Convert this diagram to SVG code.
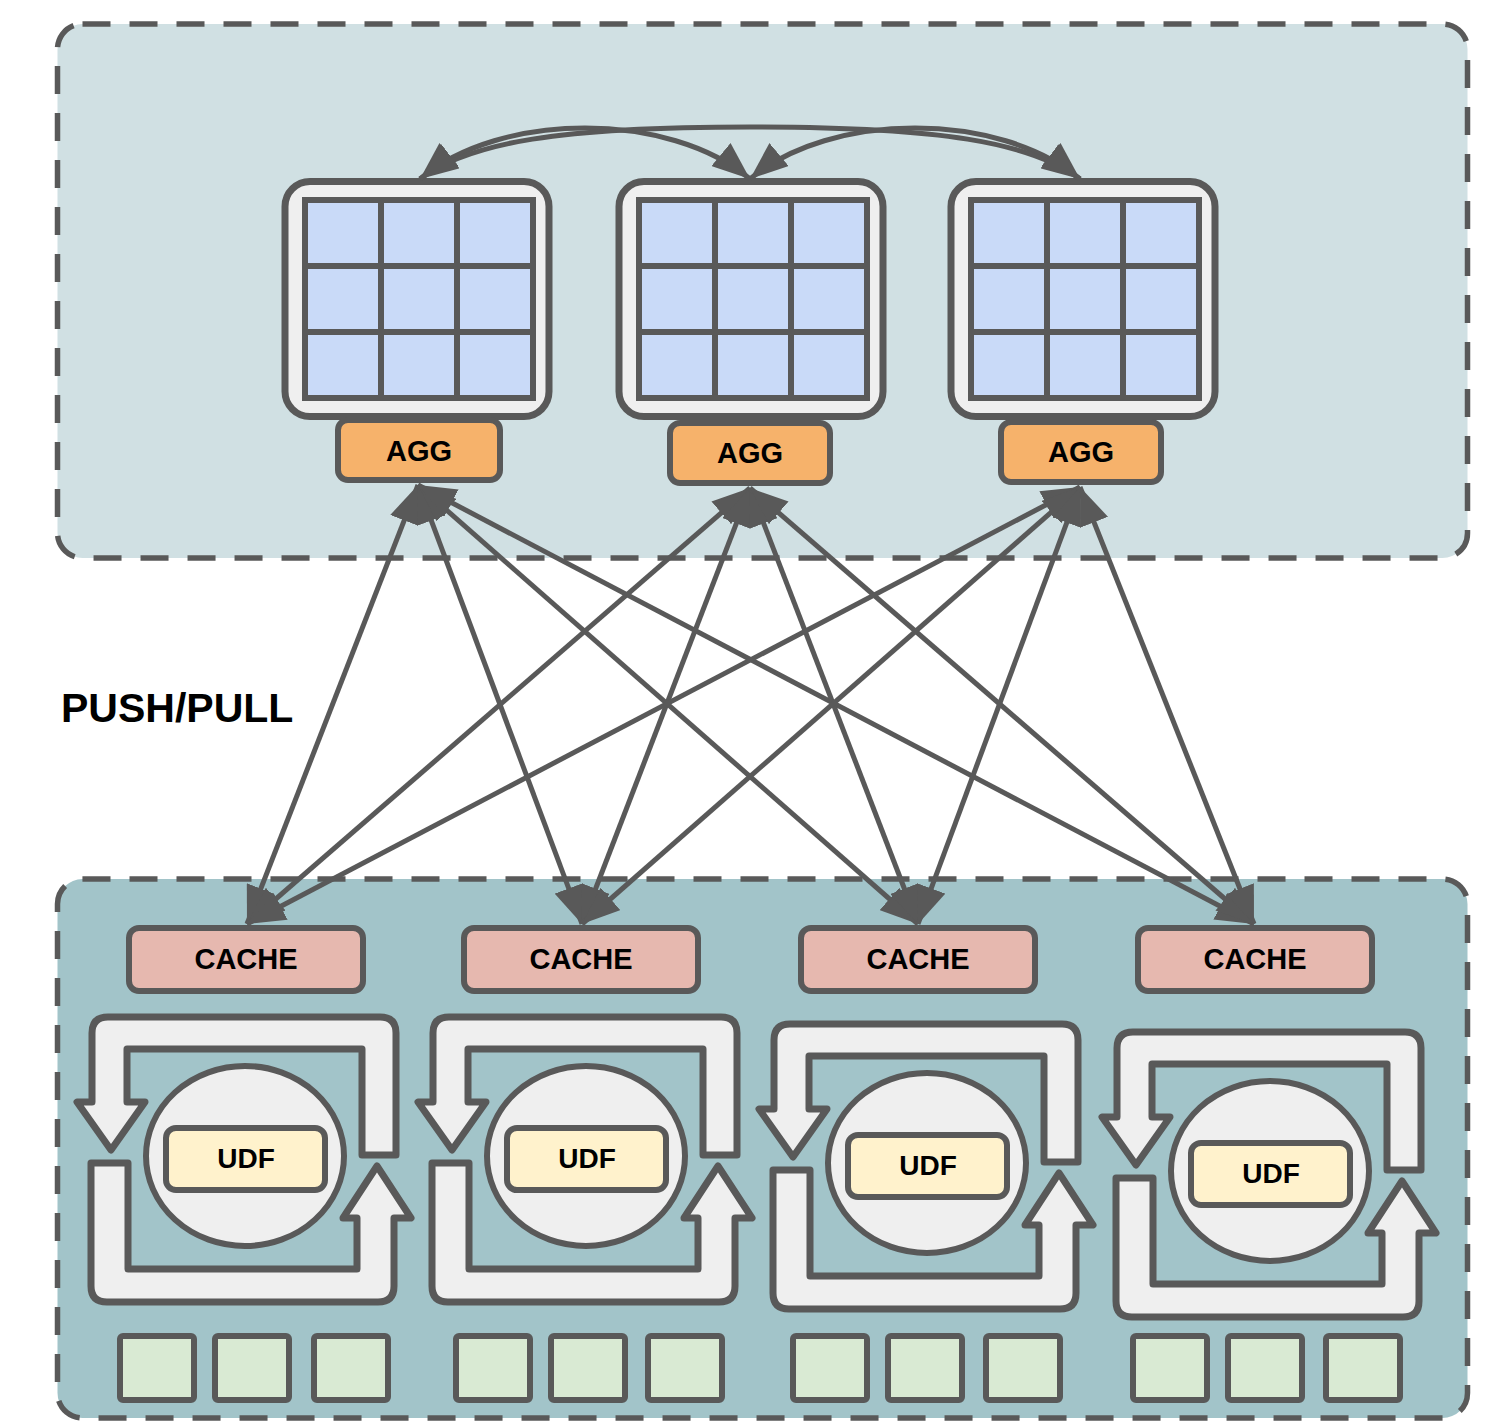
<svg xmlns="http://www.w3.org/2000/svg" xmlns:xlink="http://www.w3.org/1999/xlink" width="1493" height="1421" viewBox="0 0 1493 1421">
  <style>
    .zone-top { fill: #d0e0e3; stroke: #595959; stroke-width: 5.5; stroke-dasharray: 28 19; }
    .zone-bottom { fill: #a2c4c9; stroke: #595959; stroke-width: 5.5; stroke-dasharray: 28 19; }
    .panel { fill: #efefef; stroke: #595959; stroke-width: 7; }
    .cells { fill: #c9daf8; stroke: #595959; stroke-width: 6; }
    .gridline { fill: none; stroke: #595959; stroke-width: 6; }
    .agg { fill: #f6b26b; stroke: #595959; stroke-width: 6; }
    .cache { fill: #e6b8af; stroke: #595959; stroke-width: 6; }
    .udf { fill: #fff2cc; stroke: #595959; stroke-width: 6; }
    .worker { fill: #efefef; stroke: #595959; stroke-width: 6; }
    .loop { fill: #efefef; stroke: #595959; stroke-width: 7; stroke-linejoin: round; }
    .part { fill: #d9ead3; stroke: #595959; stroke-width: 6; }
    .label { font-family: "Liberation Sans", Arial, sans-serif; font-weight: bold; font-size: 29px; text-anchor: middle; fill: #000000; }
    .title { font-family: "Liberation Sans", Arial, sans-serif; font-weight: bold; font-size: 41px; fill: #000000; }
    .link { fill: none; stroke: #595959; stroke-width: 5; marker-start: url(#ah); marker-end: url(#ah); }
  </style>
  <defs>
    <marker id="ah" markerUnits="userSpaceOnUse" viewBox="0 0 38 30" markerWidth="38" markerHeight="30" refX="38" refY="15" orient="auto-start-reverse">
      <path d="M0,0 L38,15 L0,30 Z" fill="#595959"/>
    </marker>
    <!-- parameter server panel: rounded frame holding a 3x3 table -->
    <g id="table-panel">
      <rect class="panel" x="285" y="181.5" width="264" height="235" rx="25"/>
      <rect class="cells" x="305" y="200" width="228" height="198"/>
      <path class="gridline" d="M381,200 V398 M457,200 V398 M305,266 H533 M305,332 H533"/>
    </g>
    <!-- circular refresh loop drawn as two bent block arrows -->
    <g id="loop-frame">
      <path class="loop" d="M362,1155 L362,1049 L127,1049 L127,1102 L145,1102 L111,1150 L77,1102 L92,1102 L92,1033 Q92,1017 108,1017 L380,1017 Q396,1017 396,1033 L396,1155 Z"/>
      <path class="loop" d="M91,1163 L128,1163 L128,1269 L357,1269 L357,1218 L343,1218 L377,1166 L411,1218 L394,1218 L394,1286 Q394,1302 378,1302 L107,1302 Q91,1302 91,1286 Z"/>
    </g>
  </defs>

  <!-- zones -->
  <g id="server-zone">
    <rect class="zone-top" x="57.5" y="24" width="1410" height="534" rx="25"/>
  </g>
  <g id="worker-zone">
    <rect class="zone-bottom" x="57.5" y="879" width="1410" height="539" rx="25"/>
  </g>

  <text class="title" x="61" y="722">PUSH/PULL</text>

  <!-- server tables -->
  <g id="table-1"><use href="#table-panel"/></g>
  <g id="table-2"><use href="#table-panel" transform="translate(334,0)"/></g>
  <g id="table-3"><use href="#table-panel" transform="translate(666,0)"/></g>

  <!-- aggregators -->
  <g id="agg-1">
    <rect class="agg" x="338" y="420" width="162" height="60" rx="10"/>
    <text class="label" x="419" y="461">AGG</text>
  </g>
  <g id="agg-2">
    <rect class="agg" x="670" y="423" width="160" height="60" rx="10"/>
    <text class="label" x="750" y="463">AGG</text>
  </g>
  <g id="agg-3">
    <rect class="agg" x="1001" y="422" width="160" height="60" rx="10"/>
    <text class="label" x="1081" y="462">AGG</text>
  </g>

  <!-- worker caches -->
  <g id="cache-1">
    <rect class="cache" x="129" y="928" width="234" height="63" rx="10"/>
    <text class="label" x="246" y="969">CACHE</text>
  </g>
  <g id="cache-2">
    <rect class="cache" x="464" y="928" width="234" height="63" rx="10"/>
    <text class="label" x="581" y="969">CACHE</text>
  </g>
  <g id="cache-3">
    <rect class="cache" x="801" y="928" width="234" height="63" rx="10"/>
    <text class="label" x="918" y="969">CACHE</text>
  </g>
  <g id="cache-4">
    <rect class="cache" x="1138" y="928" width="234" height="63" rx="10"/>
    <text class="label" x="1255" y="969">CACHE</text>
  </g>

  <!-- UDF workers -->
  <g id="worker-1">
    <use href="#loop-frame"/>
    <ellipse class="worker" cx="245" cy="1156" rx="99" ry="90"/>
    <rect class="udf" x="166" y="1128" width="159" height="62" rx="10"/>
    <text class="label" style="font-size:28px" x="246" y="1168">UDF</text>
  </g>
  <g id="worker-2" transform="translate(341,0)">
    <use href="#loop-frame"/>
    <ellipse class="worker" cx="245" cy="1156" rx="99" ry="90"/>
    <rect class="udf" x="166" y="1128" width="159" height="62" rx="10"/>
    <text class="label" style="font-size:28px" x="246" y="1168">UDF</text>
  </g>
  <g id="worker-3" transform="translate(682,7)">
    <use href="#loop-frame"/>
    <ellipse class="worker" cx="245" cy="1156" rx="99" ry="90"/>
    <rect class="udf" x="166" y="1128" width="159" height="62" rx="10"/>
    <text class="label" style="font-size:28px" x="246" y="1168">UDF</text>
  </g>
  <g id="worker-4" transform="translate(1025,15)">
    <use href="#loop-frame"/>
    <ellipse class="worker" cx="245" cy="1156" rx="99" ry="90"/>
    <rect class="udf" x="166" y="1128" width="159" height="62" rx="10"/>
    <text class="label" style="font-size:28px" x="246" y="1168">UDF</text>
  </g>

  <!-- data partitions -->
  <g id="partitions-1">
    <rect class="part" x="120" y="1336" width="74" height="64" rx="3"/>
    <rect class="part" x="215" y="1336" width="74" height="64" rx="3"/>
    <rect class="part" x="314" y="1336" width="74" height="64" rx="3"/>
  </g>
  <g id="partitions-2">
    <rect class="part" x="456" y="1336" width="74" height="64" rx="3"/>
    <rect class="part" x="551" y="1336" width="74" height="64" rx="3"/>
    <rect class="part" x="648" y="1336" width="74" height="64" rx="3"/>
  </g>
  <g id="partitions-3">
    <rect class="part" x="793" y="1336" width="74" height="64" rx="3"/>
    <rect class="part" x="888" y="1336" width="74" height="64" rx="3"/>
    <rect class="part" x="986" y="1336" width="74" height="64" rx="3"/>
  </g>
  <g id="partitions-4">
    <rect class="part" x="1133" y="1336" width="74" height="64" rx="3"/>
    <rect class="part" x="1228" y="1336" width="74" height="64" rx="3"/>
    <rect class="part" x="1326" y="1336" width="74" height="64" rx="3"/>
  </g>

  <!-- connectors -->
  <g id="connectors">
    <path class="link" d="M420,179 C501,111 669,111 750,179"/>
    <path class="link" d="M750,179 C831,111 999,111 1080,179"/>
    <path class="link" d="M420,179 C470,142 560,127 750,127 C940,127 1030,142 1080,179"/>

    <path class="link" d="M418,485 L247,924"/>
    <path class="link" d="M418,485 L582,924"/>
    <path class="link" d="M418,485 L918,924"/>
    <path class="link" d="M418,485 L1254,924"/>

    <path class="link" d="M750,488 L247,924"/>
    <path class="link" d="M750,488 L582,924"/>
    <path class="link" d="M750,488 L918,924"/>
    <path class="link" d="M750,488 L1254,924"/>

    <path class="link" d="M1080,487 L247,924"/>
    <path class="link" d="M1080,487 L582,924"/>
    <path class="link" d="M1080,487 L918,924"/>
    <path class="link" d="M1080,487 L1254,924"/>
  </g>
</svg>
